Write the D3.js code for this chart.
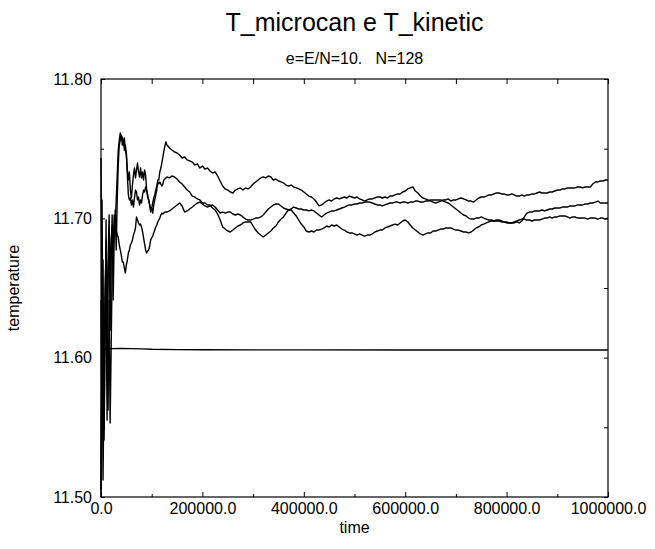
<!DOCTYPE html>
<html><head><meta charset="utf-8">
<script src="https://cdn.jsdelivr.net/npm/d3@7"></script>
<style>
body{margin:0;background:#fff}
svg{display:block}
text{font-family:"Liberation Sans",Arial,Helvetica,sans-serif;fill:#000}
</style>
</head><body>
<svg id="chart" width="655" height="549"></svg>
<script>
const titleText = "T_microcan e T_kinetic";
const subtitleText = "e=E/N=10.   N=128";
const xLabelText = "time";
const yLabelText = "temperature";

const xTickValues = [0, 200000, 400000, 600000, 800000, 1000000];
const xTickLabels = ["0.0", "200000.0", "400000.0", "600000.0", "800000.0", "1000000.0"];
const xMinorValues = [100000, 300000, 500000, 700000, 900000];
const yTickValues = [11.5, 11.6, 11.7, 11.8];
const yTickLabels = ["11.50", "11.60", "11.70", "11.80"];
const yMinorValues = [11.55, 11.65, 11.75];

const time = [
0,2000,4000,6000,8000,10000,12000,14000,16000,18000,
20000,22000,24000,26000,28000,30000,32000,34000,36000,38000,
40000,42000,44000,46000,48000,50000,52000,54000,56000,58000,60000,
62000,64000,66000,68000,70000,72000,74000,76000,78000,80000,
82000,84000,86000,88000,90000,92000,94000,96000,98000,100000,
102000,104000,106000,108000,110000,112000,114000,116000,118000,120000,
122000,124000,126000,128000,130000,
135000,140000,145000,150000,155000,160000,165000,170000,175000,180000,
185000,190000,195000,200000,205000,210000,215000,220000,225000,230000,
235000,240000,245000,250000,255000,260000,265000,270000,275000,280000,
285000,290000,295000,300000,305000,310000,315000,320000,325000,330000,
335000,340000,345000,350000,355000,360000,365000,370000,375000,380000,
385000,390000,395000,400000,405000,410000,415000,420000,425000,430000,
435000,440000,445000,450000,455000,460000,465000,470000,475000,480000,
485000,490000,495000,500000,505000,510000,515000,520000,525000,530000,
535000,540000,545000,550000,555000,560000,565000,570000,575000,580000,
585000,590000,595000,600000,605000,610000,615000,620000,625000,630000,
635000,640000,645000,650000,655000,660000,665000,670000,675000,680000,
685000,690000,695000,700000,705000,710000,715000,720000,725000,730000,
735000,740000,745000,750000,755000,760000,765000,770000,775000,780000,
785000,790000,795000,800000,805000,810000,815000,820000,825000,830000,
835000,840000,845000,850000,855000,860000,865000,870000,875000,880000,
885000,890000,895000,900000,905000,910000,915000,920000,925000,930000,
935000,940000,945000,950000,955000,960000,965000,970000,975000,980000,
985000,990000,995000,1000000
];

const tempA = [
11.7433,11.6414,11.5122,11.5840,11.6414,11.6845,11.6199,11.6701,11.7024,11.6486,
11.6845,11.6952,11.6773,11.7024,11.6916,11.7132,11.7311,11.7490,11.7562,11.7612,
11.7562,11.7584,11.7526,11.7577,11.7490,11.7455,11.7347,11.7275,11.7333,11.7203,11.7146,
11.7239,11.7311,11.7361,11.7290,11.7347,11.7397,11.7333,11.7297,11.7361,11.7290,
11.7333,11.7275,11.7347,11.7311,11.7203,11.7153,11.7132,11.7096,11.7060,11.7074,
11.7038,11.7096,11.7132,11.7168,11.7203,11.7275,11.7275,11.7333,11.7361,11.7397,
11.7440,11.7483,11.7519,11.7548,11.7526,
11.7505,11.7490,11.7476,11.7469,11.7455,11.7433,11.7440,11.7419,11.7412,11.7404,
11.7383,11.7390,11.7361,11.7376,11.7354,11.7361,11.7340,11.7325,11.7333,11.7304,
11.7268,11.7232,11.7211,11.7203,11.7189,11.7182,11.7203,11.7211,11.7218,11.7203,
11.7218,11.7211,11.7225,11.7246,11.7261,11.7275,11.7290,11.7297,11.7290,11.7304,
11.7297,11.7275,11.7282,11.7268,11.7261,11.7254,11.7239,11.7232,11.7239,11.7225,
11.7218,11.7211,11.7203,11.7189,11.7175,11.7160,11.7153,11.7139,11.7117,11.7089,
11.7096,11.7110,11.7124,11.7132,11.7124,11.7139,11.7146,11.7139,11.7146,11.7153,
11.7146,11.7160,11.7153,11.7146,11.7153,11.7139,11.7132,11.7124,11.7132,11.7139,
11.7139,11.7146,11.7153,11.7153,11.7146,11.7153,11.7146,11.7160,11.7160,11.7168,
11.7175,11.7175,11.7189,11.7196,11.7211,11.7218,11.7225,11.7196,11.7182,11.7160,
11.7146,11.7139,11.7132,11.7124,11.7117,11.7110,11.7117,11.7124,11.7132,11.7132,
11.7139,11.7124,11.7132,11.7132,11.7139,11.7146,11.7139,11.7132,11.7124,11.7124,
11.7117,11.7132,11.7146,11.7153,11.7153,11.7160,11.7168,11.7168,11.7175,11.7182,
11.7182,11.7175,11.7175,11.7168,11.7168,11.7175,11.7168,11.7160,11.7160,11.7168,
11.7160,11.7168,11.7168,11.7175,11.7175,11.7182,11.7189,11.7182,11.7182,11.7182,
11.7189,11.7189,11.7196,11.7203,11.7203,11.7211,11.7211,11.7218,11.7218,11.7218,
11.7218,11.7225,11.7225,11.7218,11.7225,11.7225,11.7225,11.7246,11.7261,11.7261,
11.7268,11.7268,11.7275,11.7275
];

const tempB = [
11.5050,11.7132,11.6055,11.5481,11.6414,11.6773,11.5553,11.6557,11.6916,11.6199,
11.6701,11.7024,11.6414,11.6845,11.7060,11.6773,11.7132,11.7383,11.7526,11.7562,
11.7598,11.7526,11.7562,11.7490,11.7526,11.7469,11.7311,11.7168,11.7132,11.7146,11.7096,
11.7132,11.7081,11.7146,11.7203,11.7189,11.7132,11.7153,11.7096,11.7132,11.7110,
11.7168,11.7203,11.7189,11.7225,11.7203,11.7168,11.7132,11.7096,11.7045,11.7074,
11.7110,11.7146,11.7168,11.7203,11.7232,11.7261,11.7246,11.7261,11.7246,11.7232,
11.7246,11.7275,11.7282,11.7290,11.7297,
11.7290,11.7304,11.7297,11.7282,11.7261,11.7246,11.7225,11.7203,11.7189,11.7160,
11.7153,11.7139,11.7132,11.7110,11.7110,11.7096,11.7096,11.7074,11.7060,11.7031,
11.6988,11.6938,11.6923,11.6909,11.6902,11.6916,11.6931,11.6945,11.6952,11.6967,
11.6974,11.6974,11.6974,11.6945,11.6916,11.6895,11.6880,11.6866,11.6880,11.6895,
11.6909,11.6931,11.6945,11.6974,11.6995,11.7010,11.7038,11.7060,11.7060,11.7038,
11.7017,11.6988,11.6959,11.6938,11.6909,11.6902,11.6909,11.6902,11.6916,11.6916,
11.6923,11.6931,11.6945,11.6938,11.6952,11.6945,11.6952,11.6938,11.6923,11.6916,
11.6902,11.6895,11.6895,11.6888,11.6880,11.6888,11.6880,11.6873,11.6880,11.6880,
11.6888,11.6902,11.6909,11.6916,11.6916,11.6931,11.6938,11.6945,11.6952,11.6959,
11.6952,11.6967,11.6981,11.6988,11.6974,11.6952,11.6931,11.6916,11.6902,11.6888,
11.6880,11.6888,11.6895,11.6895,11.6909,11.6909,11.6916,11.6923,11.6923,11.6931,
11.6931,11.6931,11.6923,11.6916,11.6916,11.6909,11.6902,11.6902,11.6895,11.6902,
11.6916,11.6931,11.6938,11.6952,11.6959,11.6967,11.6974,11.6981,11.6981,11.6988,
11.6988,11.6981,11.6974,11.6974,11.6967,11.6967,11.6974,11.6981,11.6988,11.6995,
11.6995,11.6988,11.6988,11.6981,11.6988,11.6988,11.6988,11.6995,11.7002,11.7002,
11.7010,11.7002,11.7010,11.7010,11.7017,11.7017,11.7017,11.7010,11.7002,11.7010,
11.7010,11.7002,11.7002,11.7002,11.7002,11.6995,11.7002,11.7002,11.7002,11.6995,
11.7002,11.7002,11.6995,11.7002
];

const tempC = [
11.6414,11.5553,11.6701,11.5409,11.6055,11.6988,11.5840,11.5624,11.6414,11.5531,
11.6055,11.6629,11.6845,11.6952,11.6974,11.6916,11.6880,11.6866,11.6809,11.6773,
11.6737,11.6687,11.6687,11.6644,11.6608,11.6665,11.6701,11.6751,11.6773,11.6809,11.6823,
11.6845,11.6880,11.6902,11.6931,11.7010,11.6988,11.6967,11.6952,11.6959,11.6938,
11.6902,11.6859,11.6816,11.6773,11.6751,11.6766,11.6773,11.6801,11.6845,11.6859,
11.6873,11.6895,11.6916,11.6938,11.6952,11.6974,11.6988,11.7002,11.7024,11.7038,
11.7031,11.7038,11.7045,11.7045,11.7045,
11.7053,11.7067,11.7081,11.7096,11.7110,11.7089,11.7045,11.7053,11.7067,11.7081,
11.7096,11.7110,11.7117,11.7103,11.7089,11.7081,11.7089,11.7096,11.7081,11.7060,
11.7038,11.7045,11.7038,11.7045,11.7045,11.7031,11.7024,11.7031,11.7024,11.7010,
11.6995,11.6988,11.6988,11.6995,11.7002,11.7002,11.7010,11.7024,11.7045,11.7067,
11.7081,11.7096,11.7103,11.7103,11.7089,11.7074,11.7067,11.7060,11.7067,11.7081,
11.7074,11.7067,11.7067,11.7060,11.7060,11.7053,11.7060,11.7053,11.7038,11.7024,
11.7010,11.7024,11.7038,11.7045,11.7053,11.7053,11.7060,11.7067,11.7074,11.7081,
11.7089,11.7096,11.7096,11.7103,11.7103,11.7110,11.7110,11.7117,11.7117,11.7117,
11.7110,11.7103,11.7096,11.7096,11.7089,11.7096,11.7103,11.7110,11.7110,11.7117,
11.7117,11.7110,11.7117,11.7117,11.7110,11.7117,11.7117,11.7124,11.7124,11.7117,
11.7117,11.7124,11.7124,11.7132,11.7132,11.7132,11.7132,11.7132,11.7124,11.7117,
11.7110,11.7096,11.7081,11.7067,11.7053,11.7038,11.7024,11.7017,11.7002,11.6995,
11.6995,11.7002,11.7002,11.7010,11.7002,11.6995,11.6988,11.6988,11.6981,11.6981,
11.6981,11.6974,11.6974,11.6967,11.6967,11.6967,11.6967,11.6974,11.6967,11.6981,
11.7010,11.7038,11.7045,11.7045,11.7053,11.7053,11.7053,11.7060,11.7053,11.7060,
11.7067,11.7067,11.7074,11.7074,11.7074,11.7081,11.7081,11.7081,11.7089,11.7089,
11.7089,11.7096,11.7096,11.7096,11.7103,11.7103,11.7110,11.7110,11.7117,11.7124,
11.7110,11.7110,11.7110,11.7110
];

const flatTime = [0, 2000, 4000, 10000, 20000, 40000, 60000, 80000, 100000, 150000, 200000, 300000, 400000, 600000, 800000, 1000000];
const flatTemp = [11.5000, 11.6000, 11.6062, 11.6060, 11.6065, 11.6066, 11.6065, 11.6063, 11.6060, 11.6058, 11.6057, 11.6056, 11.6056, 11.6055, 11.6055, 11.6055];

const W = 655, H = 549;
const margin = {left: 101, right: 47, top: 79, bottom: 52};
const svg = d3.select("#chart");

const x = d3.scaleLinear().domain([0, 1000000]).range([margin.left, W - margin.right]);
const y = d3.scaleLinear().domain([11.5, 11.8]).range([H - margin.bottom, margin.top]);

// data lines
const line = d3.line().x(d => x(d[0])).y(d => y(d[1]));
const seriesList = [
  d3.zip(flatTime, flatTemp),
  d3.zip(time, tempA),
  d3.zip(time, tempB),
  d3.zip(time, tempC)
];
svg.append("g").selectAll("path").data(seriesList).join("path")
  .attr("d", line)
  .attr("fill", "none")
  .attr("stroke", "#000")
  .attr("stroke-width", 1.4)
  .attr("stroke-linejoin", "round");

// axes
function styleAxis(g) {
  g.select(".domain").remove();
  g.selectAll(".tick line").attr("stroke", "#000").attr("stroke-width", 1);
  g.selectAll(".tick text").attr("font-size", 16).attr("font-family", '"Liberation Sans",Arial,sans-serif').attr("fill", "#000");
}
svg.append("g").attr("transform", `translate(0,${y(11.5)})`)
  .call(d3.axisBottom(x).tickValues(xTickValues).tickFormat((d, i) => xTickLabels[i]).tickSizeInner(-5).tickSizeOuter(0).tickPadding(6))
  .call(styleAxis);
svg.append("g").attr("transform", `translate(0,${y(11.5)})`)
  .call(d3.axisBottom(x).tickValues(xMinorValues).tickFormat("").tickSizeInner(-3).tickSizeOuter(0))
  .call(styleAxis);
svg.append("g").attr("transform", `translate(0,${y(11.8)})`)
  .call(d3.axisTop(x).tickValues(xTickValues.concat(xMinorValues)).tickFormat("").tickSizeInner(-5).tickSizeOuter(0))
  .call(styleAxis);
svg.append("g").attr("transform", `translate(${x(0)},0)`)
  .call(d3.axisLeft(y).tickValues(yTickValues).tickFormat((d, i) => yTickLabels[i]).tickSizeInner(-4).tickSizeOuter(0).tickPadding(9))
  .call(styleAxis);
svg.append("g").attr("transform", `translate(${x(0)},0)`)
  .call(d3.axisLeft(y).tickValues(yMinorValues).tickFormat("").tickSizeInner(-3).tickSizeOuter(0))
  .call(styleAxis);
svg.append("g").attr("transform", `translate(${x(1000000)},0)`)
  .call(d3.axisRight(y).tickValues(yTickValues.concat(yMinorValues)).tickFormat("").tickSizeInner(-4).tickSizeOuter(0))
  .call(styleAxis);

// frame
svg.append("rect")
  .attr("x", x(0)).attr("y", y(11.8))
  .attr("width", x(1000000) - x(0)).attr("height", y(11.5) - y(11.8))
  .attr("fill", "none").attr("stroke", "#000").attr("stroke-width", 1.2);

const cx = (x(0) + x(1000000)) / 2;
svg.append("text").attr("x", cx).attr("y", 31).attr("text-anchor", "middle")
  .attr("font-size", 25).text(titleText);
svg.append("text").attr("x", cx).attr("y", 64).attr("text-anchor", "middle")
  .attr("font-size", 16).style("white-space", "pre").text(subtitleText);
svg.append("text").attr("x", cx).attr("y", 533).attr("text-anchor", "middle")
  .attr("font-size", 16).text(xLabelText);
svg.append("text").attr("transform", `translate(19,${(y(11.5) + y(11.8)) / 2}) rotate(-90)`)
  .attr("text-anchor", "middle").attr("font-size", 16).text(yLabelText);
</script>
</body></html>
